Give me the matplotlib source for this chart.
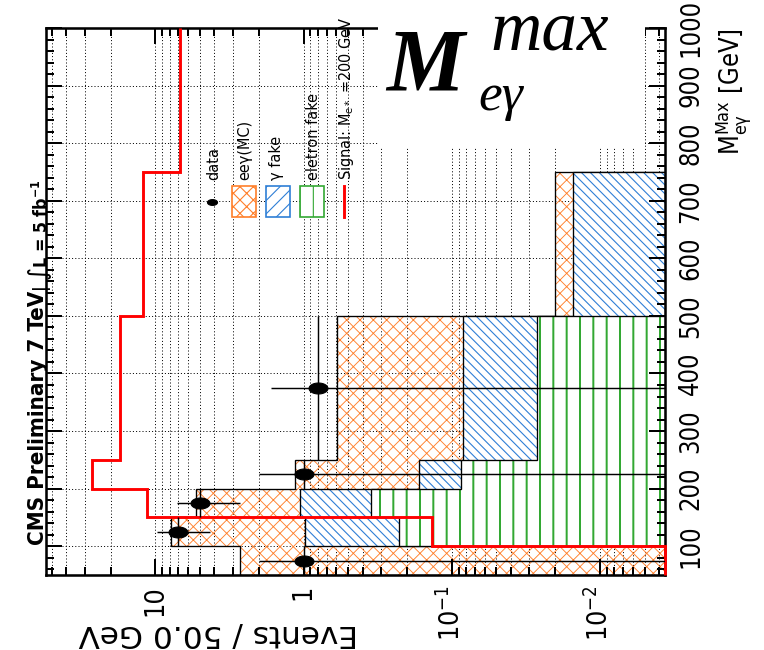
import numpy as np
import matplotlib
matplotlib.use("Agg")
import matplotlib.pyplot as plt
from matplotlib.patches import Rectangle
from matplotlib.lines import Line2D
from matplotlib.path import Path
from matplotlib.ticker import FixedLocator, LogLocator, MultipleLocator, NullFormatter

# ---------------- data ----------------
mass_edges = [50, 100, 150, 200, 250, 500, 750, 1000]
eegamma_mc = [2.68, 6.86, 4.26, 0.974, 0.510, 0.0049, 0.0]
gamma_fake = [0.0, 0.750, 0.705, 0.0794, 0.0573, 0.0152, 0.0]
electron_fake = [0.0, 0.227, 0.350, 0.0866, 0.0266, 0.0, 0.0]
signal = [0.0, 0.136, 11.4, 26.7, 17.3, 12.1, 6.81]

data_mass = [75, 125, 175, 225, 375]
data_mass_halfwidth = [25, 25, 25, 25, 125]
data_val = [1.0, 7.0, 5.0, 1.0, 0.8]
data_low = [0.0, 4.3, 2.7, 0.0, 0.0]
data_high = [2.0, 9.7, 7.1, 2.0, 1.66]

value_ticks = [10, 1, 0.1, 0.01]
value_tick_labels = ['10', '1', r'$\mathregular{10^{-1}}$', r'$\mathregular{10^{-2}}$']
mass_ticks = [100, 200, 300, 400, 500, 600, 700, 800, 900, 1000]
mass_tick_labels = ['100', '200', '300', '400', '500', '600', '700', '800', '900', '1000']

legend_labels = ['data', 'eeγ(MC)', 'γ fake', 'eletron fake',
                 r'Signal: $\mathregular{M_{e*}}$ =200 GeV']
value_label = 'Events / 50.0 GeV'
mass_label = r'$\mathregular{M_{e\gamma}^{Max}}$ [GeV]'
cms_label = 'CMS Preliminary 7 TeV'
lumi_label = r'| ∫L = 5 fb$\mathregular{^{-1}}$'

# ---------------- style ----------------
NARROW = ['Liberation Sans Narrow', 'DejaVu Sans Condensed', 'Noto Sans Condensed',
          'DejaVu Sans']
plt.rcParams['font.family'] = NARROW
plt.rcParams['font.stretch'] = 'condensed'
plt.rcParams['mathtext.default'] = 'regular'

DPI = 80
W, H = 764, 650
ORANGE = '#ff7f2a'
BLUE = '#2f7fd6'
GREEN = '#33a833'
XLO, XHI = 0.00364, 55.1
FLOOR = 1e-6


def fx(px):
    return px / W


def fy(py):
    return 1 - py / H


fig = plt.figure(figsize=(W / DPI, H / DPI), dpi=DPI)
fig.patch.set_facecolor('white')
pos = [fx(45.5), fy(575), (665 - 45.5) / W, (575 - 28) / H]

# background axes: grid only
ax = fig.add_axes(pos)
ax.set_xscale('log')
ax.set_xlim(XHI, XLO)
ax.set_ylim(50, 1000)
ax.xaxis.set_major_locator(FixedLocator(value_ticks))
ax.xaxis.set_minor_locator(LogLocator(base=10, subs=np.arange(2, 10), numticks=30))
ax.xaxis.set_minor_formatter(NullFormatter())
ax.yaxis.set_major_locator(FixedLocator(mass_ticks))
ax.yaxis.set_minor_locator(MultipleLocator(20))
gridkw = dict(color='black', linestyle=(0, (1, 2.2)), linewidth=0.9)
ax.grid(True, which='both', axis='x', **gridkw)
ax.grid(True, which='major', axis='y', **gridkw)
ax.tick_params(which='both', length=0, labelbottom=False, labelleft=False)
for s in ax.spines.values():
    s.set_visible(False)

# foreground axes: data, ticks, spines
ax2 = fig.add_axes(pos, sharex=ax, sharey=ax)
ax2.patch.set_visible(False)
ax2.set_axisbelow(False)

edges = np.array(mass_edges, float)
s_e = np.array(electron_fake)
s_g = s_e + np.array(gamma_fake)
s_t = s_g + np.array(eegamma_mc)


def cl(v):
    return np.maximum(v, FLOOR)


def hatch_lw(artist, lw):
    try:
        artist.set_hatch_linewidth(lw)
    except AttributeError:
        pass


layers = [(s_t, 'none', ORANGE, 'xx', 0.8, 2.0),
          (s_g, 'white', BLUE, '\\\\\\', 1.0, 2.2),
          (s_e, 'white', GREEN, '|', 1.8, 2.4)]
for vals, face, col, hat, hlw, z in layers:
    with plt.rc_context({'hatch.linewidth': hlw}):
        p = ax2.stairs(cl(vals), edges, orientation='horizontal', baseline=FLOOR,
                       fill=True, facecolor=face, edgecolor=col, hatch=hat,
                       linewidth=0, zorder=z)
        hatch_lw(p, hlw)
    ax2.stairs(cl(vals), edges, orientation='horizontal', baseline=None,
               fill=False, edgecolor='black', linewidth=1.2, zorder=z + 0.05)

plt.rcParams['hatch.linewidth'] = 1.0

# signal
ax2.stairs(np.maximum(signal, XLO), edges, orientation='horizontal', baseline=None,
           fill=False, edgecolor='#ff0000', linewidth=2.6, zorder=6, clip_on=False)

# data
dv = np.array(data_val)
lo = np.maximum(np.array(data_low), FLOOR)
hi = np.array(data_high)
ax2.errorbar(dv, data_mass, xerr=[dv - lo, hi - dv], yerr=data_mass_halfwidth,
             fmt='none', ecolor='black', elinewidth=1.3, capsize=0, zorder=7)
t = np.linspace(0, 2 * np.pi, 60)
ellipse = Path(np.column_stack([np.cos(t), 0.58 * np.sin(t)]), closed=True)
ax2.plot(dv, data_mass, ls='none', marker=ellipse, ms=17, color='black', zorder=8)

# ticks
ax2.set_xticks(value_ticks, labels=value_tick_labels)
ax2.set_yticks(mass_ticks, labels=mass_tick_labels)
ax2.tick_params(which='both', direction='in', top=True, bottom=True, left=True,
                right=True, width=1.8, colors='black')
ax2.tick_params(which='major', length=14)
ax2.tick_params(which='minor', length=7)
ax2.tick_params(axis='y', labelleft=False, labelright=True, labelrotation=90,
                pad=12, labelsize=23)
ax2.tick_params(axis='x', labelrotation=90, pad=9, labelsize=24)
for tk in ax2.yaxis.get_major_ticks():
    tk.label2.set_va('center')
    tk.label2.set_ha('left')
    tk.label2.set_fontstretch('condensed')
for tk in ax2.xaxis.get_major_ticks():
    tk.label1.set_fontstretch('condensed')
for s in ax2.spines.values():
    s.set_linewidth(2.3)

# axis titles
fig.text(fx(218), fy(634), value_label, rotation=180, ha='center', va='center',
         fontsize=28, family='DejaVu Sans', fontstretch='normal')
fig.text(fx(733), fy(28), mass_label, rotation=90, ha='center', va='top', fontsize=23,
         fontstretch='condensed')
fig.text(fx(38), fy(545), cms_label, rotation=90, ha='center', va='bottom',
         fontsize=20, fontweight='bold', fontstretch='condensed')
fig.text(fx(40), fy(292), lumi_label, rotation=90, ha='center', va='bottom',
         fontsize=16, fontweight='bold', fontstretch='condensed')

# legend
leg_x = [212, 244, 277.5, 311.5, 344]
box_top, box_bot = 186, 217
fig.add_artist(Line2D([fx(leg_x[0])], [fy(201.5)], transform=fig.transFigure,
                      marker=ellipse, ms=9, color='black', ls='none'))
box_specs = [(ORANGE, 'xx'), (BLUE, '//'), (GREEN, '|')]
for xc, (col, hat) in zip(leg_x[1:4], box_specs):
    r = Rectangle((fx(xc - 12), fy(box_bot)), 24 / W, (box_bot - box_top) / H,
                  transform=fig.transFigure, facecolor='white', edgecolor=col,
                  hatch=hat, linewidth=1.5, zorder=3)
    fig.add_artist(r)
fig.add_artist(Line2D([fx(leg_x[4]), fx(leg_x[4])], [fy(box_top), fy(box_bot)],
                      transform=fig.transFigure, color='#ff0000', lw=2.6))
label_x = [214, 245, 277, 313, 347]
for xc, lab in zip(label_x, legend_labels):
    fig.text(fx(xc), fy(180), lab, rotation=90, ha='center', va='bottom',
             fontsize=14.5, fontstretch='condensed')

# big overlay title with white box
fig.add_artist(Rectangle((fx(378), fy(147)), (645 - 378) / W, 147 / H,
                         transform=fig.transFigure, facecolor='white',
                         edgecolor='none', zorder=5))
fig.text(fx(386), fy(90), 'M', ha='left', va='baseline', fontsize=79,
         family='Liberation Serif', fontweight='bold', fontstyle='italic',
         fontstretch='normal', zorder=6)
fig.text(fx(490), fy(50), 'max', ha='left', va='baseline', fontsize=64,
         family='Liberation Serif', fontstyle='italic', fontstretch='normal', zorder=6)
fig.text(fx(478), fy(110), 'eγ', ha='left', va='baseline', fontsize=48,
         family='Liberation Serif', fontstyle='italic', fontstretch='normal', zorder=6)

fig.savefig('out.png', dpi=DPI)
